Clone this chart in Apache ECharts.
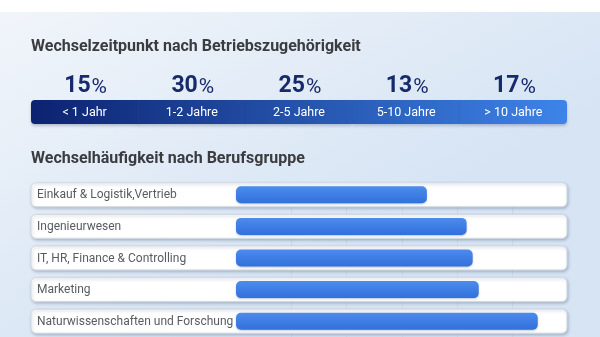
<!DOCTYPE html>
<html><head><meta charset="utf-8">
<script src="https://cdn.jsdelivr.net/npm/echarts@6/dist/echarts.min.js"></script>
<style>html,body{margin:0;padding:0;background:#fff}#c{width:600px;height:337px}</style>
</head><body><div id="c"></div>
<script>
// ---- data ----
const tenureCategories = ['< 1 Jahr', '1-2 Jahre', '2-5 Jahre', '5-10 Jahre', '> 10 Jahre'];
const tenureShares = [15, 30, 25, 13, 17];
const groupCategories = ['Einkauf & Logistik,Vertrieb', 'Ingenieurwesen', 'IT, HR, Finance & Controlling', 'Marketing', 'Naturwissenschaften und Forschung'];
const groupValues = [3.46, 4.18, 4.29, 4.40, 5.47];
const gridTicks = [1, 2, 3, 4, 5];
const titleTop = 'Wechselzeitpunkt nach Betriebszugehörigkeit';
const titleBottom = 'Wechselhäufigkeit nach Berufsgruppe';

// ---- helpers ----
const cStart = [12, 34, 112], cEnd = [62, 132, 232];
function mix(t) {
  const c = cStart.map((v, k) => Math.round(v + (cEnd[k] - v) * t));
  return 'rgb(' + c.join(',') + ')';
}
const FONT = 'Roboto, "Open Sans", sans-serif';

const chart = echarts.init(document.getElementById('c'), null, {renderer: 'canvas'});

function renderBand(params, api) {
  const i = params.dataIndex;
  const n = tenureCategories.length;
  const cs = params.coordSys;
  const cx = api.coord([api.value(0), 0])[0];
  const w = api.size([1, 0])[0];
  const x0 = cx - w / 2;
  const r = i === 0 ? [4, 0, 0, 4] : (i === n - 1 ? [0, 4, 4, 0] : 0);
  return {
    type: 'group',
    children: [
      {type: 'rect', shape: {x: x0, y: cs.y, width: w + (i === n - 1 ? 0 : 0.6), height: cs.height, r: r},
        style: {fill: new echarts.graphic.LinearGradient(0, 0, 1, 0, [{offset: 0, color: mix(i / n)}, {offset: 1, color: mix((i + 1) / n)}]),
          shadowBlur: 3, shadowOffsetY: 2, shadowColor: 'rgba(20,40,90,0.25)'}},
      {type: 'text', style: {text: tenureCategories[i], x: cx, y: cs.y + cs.height / 2 + 0.5, align: 'center', verticalAlign: 'middle',
        fill: '#ffffff', font: '12.5px ' + FONT}},
      {type: 'text', style: {text: '{a|' + api.value(1) + '}{b|%}', x: cx + 1, y: cs.y - 15, align: 'center', verticalAlign: 'middle',
        rich: {
          a: {fontSize: 23, fontWeight: 'bold', fill: '#172a6b', color: '#172a6b', fontFamily: FONT, verticalAlign: 'bottom', lineHeight: 26},
          b: {fontSize: 21, fill: '#172a6b', color: '#172a6b', fontFamily: FONT, verticalAlign: 'bottom', lineHeight: 26, padding: [0, 0, 0, 1]}
        }}}
    ]
  };
}

function renderBox(params, api) {
  const cs = params.coordSys;
  const idx = api.value(1);
  const cy = api.coord([0, idx])[1];
  const band = api.size([0, 1])[1];
  const h = 24;
  const left = cs.x - 205;
  const right = cs.x + cs.width;
  const children = [];
  // light vertical grid lines in the gap below each row
  gridTicks.forEach(function (t) {
    const x = Math.round(api.coord([t, idx])[0]) + 0.5;
    children.push({type: 'line', shape: {x1: x, y1: cy + h / 2, x2: x, y2: cy + band - h / 2},
      style: {stroke: '#d2d8e0', lineWidth: 1}});
  });
  children.push(
    {type: 'rect', shape: {x: left, y: cy - h / 2, width: right - left, height: h, r: 5},
      style: {fill: '#ffffff', stroke: '#d3d9e1', lineWidth: 1, shadowBlur: 3, shadowOffsetX: 1, shadowOffsetY: 1.5, shadowColor: 'rgba(60,80,110,0.3)'}},
    {type: 'text', style: {text: groupCategories[params.dataIndex], x: left + 6, y: cy + 0.5, align: 'left', verticalAlign: 'middle',
      fill: '#575c62', font: '12px ' + FONT}}
  );
  return {type: 'group', children: children};
}

const option = {
  animation: false,
  graphic: [
    {type: 'rect', z: -10, shape: {x: 0, y: 12, width: 600, height: 325},
      style: {fill: new echarts.graphic.LinearGradient(0, 0, 0.3, 1, [{offset: 0, color: '#f1f5fa'}, {offset: 1, color: '#d6e4f4'}])}}
  ],
  title: [
    {text: titleTop, left: 31, top: 39, padding: 0, textStyle: {fontFamily: FONT, fontSize: 16, fontWeight: 'bold', color: '#3a3c40'}},
    {text: titleBottom, left: 31, top: 151, padding: 0, textStyle: {fontFamily: FONT, fontSize: 16, fontWeight: 'bold', color: '#3a3c40'}}
  ],
  grid: [
    {left: 31, right: 33, top: 100, height: 24},
    {left: 236, right: 33, top: 179, height: 160}
  ],
  xAxis: [
    {gridIndex: 0, type: 'category', data: tenureCategories, show: false},
    {gridIndex: 1, type: 'value', min: 0, max: 6, interval: 1, axisLabel: {show: false}, axisLine: {show: false}, axisTick: {show: false},
      splitLine: {show: false}}
  ],
  yAxis: [
    {gridIndex: 0, type: 'value', show: false, min: 0, max: 1},
    {gridIndex: 1, type: 'category', data: groupCategories, inverse: true, show: false}
  ],
  series: [
    {type: 'custom', xAxisIndex: 0, yAxisIndex: 0, renderItem: renderBand, clip: false,
      data: tenureShares.map((v, i) => [i, v]), encode: {x: 0}},
    {type: 'custom', xAxisIndex: 1, yAxisIndex: 1, renderItem: renderBox, clip: false, z: 1,
      data: groupCategories.map((c, i) => [0, i]), encode: {x: 0, y: 1}},
    {type: 'bar', xAxisIndex: 1, yAxisIndex: 1, z: 3, barWidth: 17, data: groupValues,
      itemStyle: {borderRadius: 5, color: new echarts.graphic.LinearGradient(0, 0, 0, 1, [{offset: 0, color: '#4b8cec'}, {offset: 1, color: '#3270dc'}]),
        shadowBlur: 2, shadowOffsetY: 1, shadowColor: 'rgba(30,60,120,0.3)'}}
  ]
};
chart.setOption(option);
</script>
</body></html>
